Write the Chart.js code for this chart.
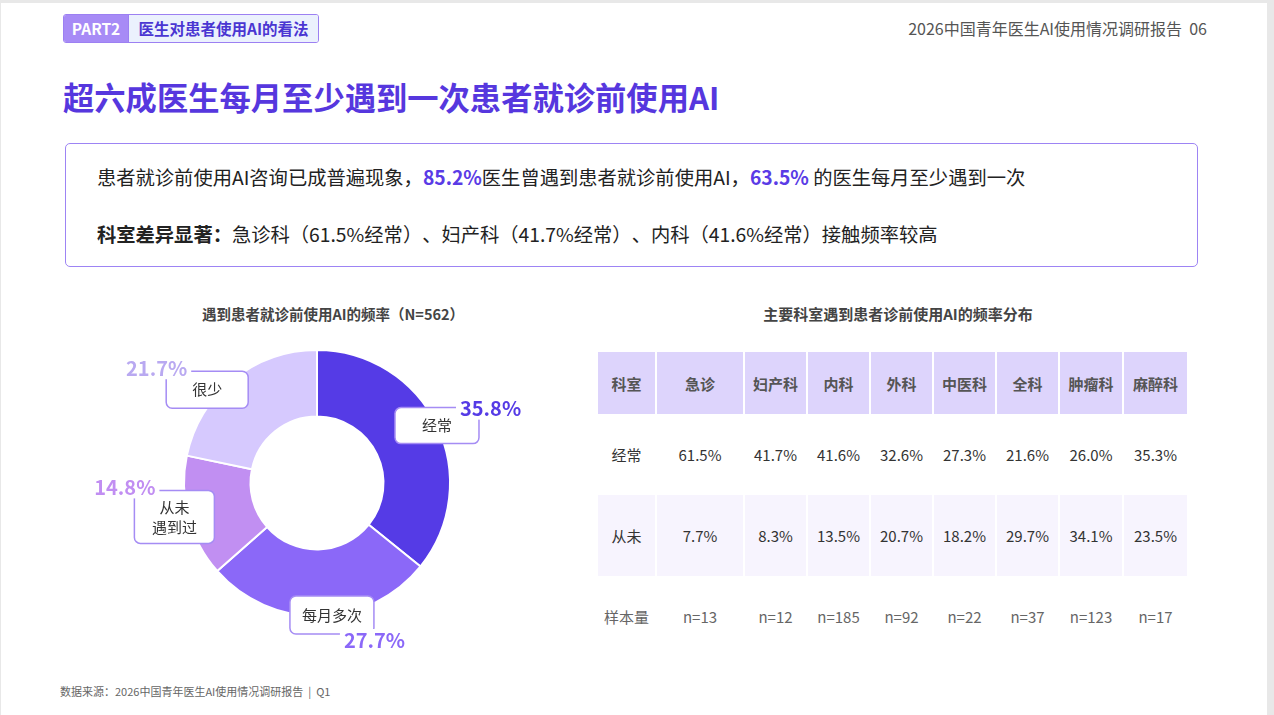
<!DOCTYPE html>
<html lang="zh-CN">
<head>
<meta charset="utf-8">
<title>超六成医生每月至少遇到一次患者就诊前使用AI</title>
<script src="https://cdn.jsdelivr.net/npm/chart.js@4.4.1/dist/chart.umd.min.js"></script>
<style>
  html, body { margin: 0; padding: 0; }
  body { width: 1274px; height: 715px; background: #e8e8e8; position: relative; overflow: hidden;
         font-family: "Noto Sans CJK SC", "Noto Sans", sans-serif; color: #333; text-spacing-trim: space-all; }
  .page { position: absolute; left: 1px; top: 3px; width: 1266px; height: 712px; background: #fff; }
  .abs { position: absolute; white-space: nowrap; }
  .badge { left: 63px; top: 14px; height: 27px; border: 1.5px solid #9c80f2; border-radius: 3px; display: flex; overflow: hidden; }
  .badge .a { width: 64px; background: #a78bf6; color: #fff; font-weight: 700; font-size: 15.5px; line-height: 27px; text-align: center; border-right: 1.5px solid #9c80f2; }
  .badge .b { width: 189px; background: #ebf1fd; color: #4a36d2; font-weight: 700; font-size: 15.5px; line-height: 27px; text-align: center; }
  .head-r { right: 67px; top: 17px; font-size: 16px; line-height: 22px; color: #555; }
  .title { left: 63px; top: 77px; font-size: 31.3px; line-height: 40px; font-weight: 700; color: #5637de; }
  .box { left: 65px; top: 143px; width: 1131px; height: 122px; border: 1.5px solid #9d84f4; border-radius: 5px; }
  .line { left: 97px; font-size: 19.3px; line-height: 28px; color: #222; }
  .line b.hl { color: #5a3be6; }
  .sub { font-size: 14.5px; line-height: 22px; font-weight: 700; color: #444; text-align: center; }
  .foot { left: 60px; top: 682px; font-size: 11px; line-height: 18px; color: #666; }
  #donutWrap { position: absolute; left: 79px; top: 337px; width: 480px; height: 320px; }
  table.dept { position: absolute; left: 596px; top: 349px; border-collapse: separate; border-spacing: 2.4px 3px; table-layout: fixed; }
  table.dept td { text-align: center; font-size: 15px; color: #333; padding: 0; }
  table.dept tr.hd td { background: #ddd4fc; font-weight: 700; color: #555; height: 62px; }
  table.dept tr.r1 td { height: 75px; }
  table.dept tr.r2 td { background: #f7f4fe; height: 81px; }
  table.dept tr.r3 td { height: 75px; color: #666; }
</style>
</head>
<body>
<div class="page"></div>

<div class="abs badge"><div class="a">PART2</div><div class="b">医生对患者使用AI的看法</div></div>
<div class="abs head-r">2026中国青年医生AI使用情况调研报告&nbsp;&nbsp;06</div>
<div class="abs title">超六成医生每月至少遇到一次患者就诊前使用AI</div>

<div class="abs box"></div>
<div class="abs line" style="top:163px">患者就诊前使用AI咨询已成普遍现象，<b class="hl">85.2%</b>医生曾遇到患者就诊前使用AI，<b class="hl">63.5%</b> 的医生每月至少遇到一次</div>
<div class="abs line" style="top:220px"><b>科室差异显著：</b>急诊科（61.5%经常）、妇产科（41.7%经常）、内科（41.6%经常）接触频率较高</div>

<div class="abs sub" style="left:163px; width:340px; top:303px">遇到患者就诊前使用AI的频率（N=562）</div>
<div class="abs sub" style="left:728px; width:340px; top:303px; font-size:15px">主要科室遇到患者诊前使用AI的频率分布</div>

<div id="donutWrap"><canvas id="donut" width="480" height="320"></canvas></div>
<table class="dept" id="deptTable"></table>

<div class="abs foot">数据来源：2026中国青年医生AI使用情况调研报告&nbsp;&nbsp;|&nbsp;&nbsp;Q1</div>

<script>
// --- 数据 ---
const freqLabels = ['经常', '每月多次', '从未\n遇到过', '很少'];
const freqValues = [35.8, 27.7, 14.8, 21.7];
const freqColors = ['#553be6', '#8b68f8', '#c18ff2', '#d6c9fe'];
const pctColors = ['#553be6', '#8b68f8', '#c18ef2', '#b9a9f1'];

const depts = ['急诊', '妇产科', '内科', '外科', '中医科', '全科', '肿瘤科', '麻醉科'];
const oftenPct = [61.5, 41.7, 41.6, 32.6, 27.3, 21.6, 26.0, 35.3];
const neverPct = [7.7, 8.3, 13.5, 20.7, 18.2, 29.7, 34.1, 23.5];
const sampleN = [13, 12, 185, 92, 22, 37, 123, 17];

// --- 标注框样式（位置相对扇区中点） ---
const boxStyle = [
    { w: 84, h: 36, dx: 0, dy: 0, corner: 'tr' },
    { w: 84, h: 38, dx: 12, dy: -1, corner: 'br' },
    { w: 80, h: 53, dx: -14, dy: 0, corner: 'tl' },
    { w: 82, h: 37, dx: -26, dy: 10, corner: 'tl' }
];

function roundRect(ctx, x, y, w, h, r) {
    ctx.beginPath();
    ctx.moveTo(x + r, y);
    ctx.arcTo(x + w, y, x + w, y + h, r);
    ctx.arcTo(x + w, y + h, x, y + h, r);
    ctx.arcTo(x, y + h, x, y, r);
    ctx.arcTo(x, y, x + w, y, r);
    ctx.closePath();
}

const calloutPlugin = {
    id: 'callouts',
    afterDatasetsDraw(chart) {
        const ctx = chart.ctx;
        const meta = chart.getDatasetMeta(0);
        meta.data.forEach((arc, i) => {
            const st = boxStyle[i];
            const mid = (arc.startAngle + arc.endAngle) / 2;
            const cx = arc.x + Math.cos(mid) * arc.outerRadius + st.dx;
            const cy = arc.y + Math.sin(mid) * arc.outerRadius + st.dy;
            const bx = cx - st.w / 2, by = cy - st.h / 2;

            ctx.save();
            // 框
            roundRect(ctx, bx, by, st.w, st.h, 6);
            ctx.fillStyle = '#fff';
            ctx.fill();
            ctx.lineWidth = 1.5;
            ctx.strokeStyle = '#a58cf4';
            ctx.stroke();

            // 分类名
            ctx.fillStyle = '#333';
            ctx.font = '15px "Noto Sans CJK SC", sans-serif';
            ctx.textAlign = 'center';
            ctx.textBaseline = 'middle';
            const lines = freqLabels[i].split('\n');
            lines.forEach((t, k) => {
                ctx.fillText(t, cx, cy + (k - (lines.length - 1) / 2) * 20);
            });

            // 百分比（压在框线上）
            const txt = freqValues[i].toFixed(1) + '%';
            ctx.font = 'bold 20px "Noto Sans CJK SC", sans-serif';
            const tw = ctx.measureText(txt).width;
            let tx, ty;
            if (st.corner === 'tr') { tx = bx + st.w - 19; ty = by + 1; }
            else if (st.corner === 'br') { tx = bx + st.w - 30; ty = by + st.h + 6; }
            else { tx = bx + 21 - tw; ty = by - 3; }
            ctx.fillStyle = '#fff';
            ctx.fillRect(tx - 4, ty - 11, tw + 8, 22);
            ctx.fillStyle = pctColors[i];
            ctx.textAlign = 'left';
            ctx.fillText(txt, tx, ty);
            ctx.restore();
        });
    }
};

// --- 环形图 ---
new Chart(document.getElementById('donut').getContext('2d'), {
    type: 'doughnut',
    data: {
        labels: freqLabels,
        datasets: [{
            data: freqValues,
            backgroundColor: freqColors,
            borderColor: '#fff',
            borderWidth: 2
        }]
    },
    options: {
        responsive: false,
        animation: false,
        cutout: '50%',
        layout: { padding: { left: 104, right: 108, top: 12, bottom: 40 } },
        plugins: { legend: { display: false }, tooltip: { enabled: false } }
    },
    plugins: [calloutPlugin]
});

// --- 科室表格 ---
const colW = [57, 86, 61, 61, 61, 61, 61, 62, 63];
function buildTable() {
    const tbl = document.getElementById('deptTable');
    const rows = [
        { cls: 'hd', head: '科室', cells: depts },
        { cls: 'r1', head: '经常', cells: oftenPct.map(v => v.toFixed(1) + '%') },
        { cls: 'r2', head: '从未', cells: neverPct.map(v => v.toFixed(1) + '%') },
        { cls: 'r3', head: '样本量', cells: sampleN.map(v => 'n=' + v) }
    ];
    rows.forEach(r => {
        const tr = document.createElement('tr');
        tr.className = r.cls;
        [r.head, ...r.cells].forEach((t, j) => {
            const td = document.createElement('td');
            td.style.width = colW[j] + 'px';
            td.textContent = t;
            tr.appendChild(td);
        });
        tbl.appendChild(tr);
    });
}
buildTable();
</script>
</body>
</html>
